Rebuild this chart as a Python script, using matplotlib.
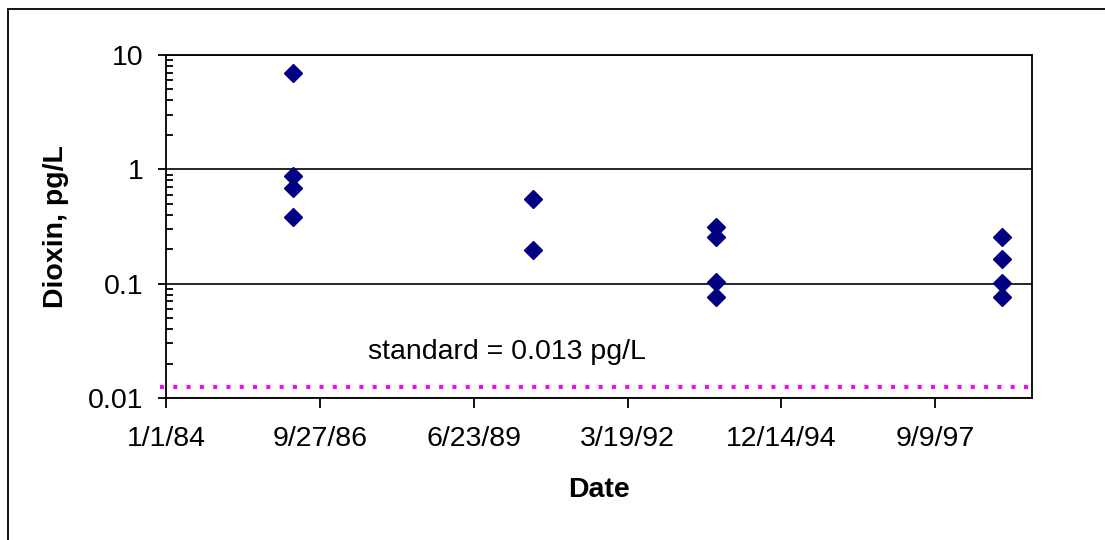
import numpy as np
import matplotlib
matplotlib.use("Agg")
import matplotlib.pyplot as plt
import matplotlib.ticker as mticker
from matplotlib.patches import Rectangle
from datetime import datetime, timedelta

plt.rcParams['font.family'] = ['Liberation Sans', 'DejaVu Sans']

# sample dates and dioxin concentrations (pg/L)
dates = ["1986-04-05"] * 4 + ["1990-07-11"] * 2 + ["1993-10-18"] * 4 + ["1998-11-20"] * 4
dioxin = [7.0, 0.87, 0.69, 0.385,
          0.55, 0.197,
          0.315, 0.254, 0.104, 0.077,
          0.257, 0.164, 0.102, 0.077]
standard = 0.0125

x_start = datetime(1984, 1, 1)
x_end = datetime(1999, 5, 31)
tick_step_days = 1000
y_ticks = [0.01, 0.1, 1, 10]
y_labels = ["0.01", "0.1", "1", "10"]

d = [datetime.strptime(s, "%Y-%m-%d") for s in dates]
fs = 20.5

fig = plt.figure(figsize=(11.05, 5.4), dpi=100)
ax = fig.add_axes([166 / 1105, 1 - 398 / 540, (1032 - 166) / 1105, (398 - 55) / 540])

ax.plot(d, dioxin, linestyle="none", marker="D", markersize=9,
        color="#000080", markeredgecolor="#000080", zorder=3)

ax.axhline(standard, xmin=-0.007, xmax=1.004, color="#FF00FF", lw=2.9,
           linestyle=(0, (1, 2.3)), dash_capstyle="butt", clip_on=False, zorder=2)

ax.set_yscale("log")
ax.set_ylim(0.01, 10)
ax.set_xlim(x_start, x_end)

xt = [x_start + timedelta(days=tick_step_days * i) for i in range(6)]
ax.set_xticks(xt)
ax.set_xticklabels([f"{t.month}/{t.day}/{t.strftime('%y')}" for t in xt])

ax.yaxis.set_major_locator(mticker.FixedLocator(y_ticks))
ax.yaxis.set_major_formatter(mticker.FixedFormatter(y_labels))
ax.yaxis.set_minor_locator(mticker.LogLocator(base=10, subs=np.arange(2, 10)))
ax.yaxis.set_minor_formatter(mticker.NullFormatter())

ax.grid(True, which="major", axis="y", color="black", lw=1.2)
for sp in ax.spines.values():
    sp.set_linewidth(1.3)

ax.tick_params(axis="x", which="major", direction="out", length=7, width=1.3,
               pad=13, labelsize=fs)
ax.tick_params(axis="y", which="major", direction="out", length=6, width=1.3,
               pad=10, labelsize=fs)
ax.tick_params(axis="y", which="minor", direction="in", length=5, width=1.3)

ax.set_ylabel("Dioxin, pg/L", fontsize=fs, fontweight="bold", labelpad=14)
ax.set_xlabel("Date", fontsize=fs, fontweight="bold", labelpad=18)

ax.text(0.233, 0.134, "standard = 0.013 pg/L", transform=ax.transAxes,
        fontsize=fs, va="center", ha="left")

fig.patches.append(Rectangle((8 / 1105, -0.1), 2, 1 - 9 / 540 + 0.1, fill=False,
                             lw=1.3, edgecolor="black", transform=fig.transFigure))

fig.savefig("out.png", dpi=100)
